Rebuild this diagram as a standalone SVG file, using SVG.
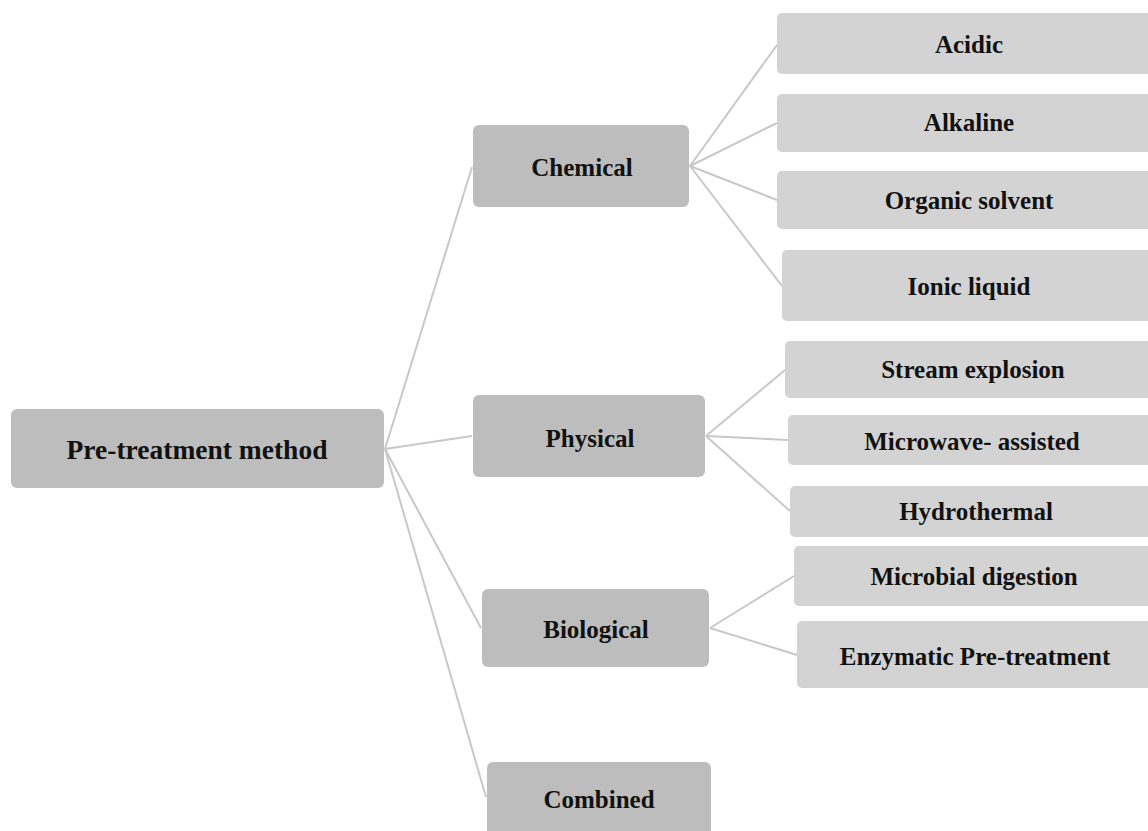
<svg xmlns="http://www.w3.org/2000/svg" width="1148" height="831" viewBox="0 0 1148 831">
<style>
.mid{fill:#bdbdbd}
.leaf{fill:#d3d3d3}
.t{font-family:"Liberation Serif","Times New Roman",serif;font-weight:bold;fill:#111;text-anchor:middle;dominant-baseline:central}
.tr{font-size:27.5px}
.tm{font-size:25px}
.tl{font-size:25px}
.c{stroke:#c8c8c8;stroke-width:2;fill:none}
</style>
<rect width="1148" height="831" fill="#fff"/>
<g id="connectors" class="c">
<line x1="385" y1="449" x2="472" y2="167"/>
<line x1="385" y1="449" x2="472" y2="436"/>
<line x1="385" y1="449" x2="481" y2="628"/>
<line x1="385" y1="449" x2="486" y2="797"/>
<line x1="690" y1="166" x2="777" y2="45"/>
<line x1="690" y1="166" x2="777" y2="123"/>
<line x1="690" y1="166" x2="777" y2="200"/>
<line x1="690" y1="166" x2="782" y2="286"/>
<line x1="706" y1="436" x2="785" y2="370"/>
<line x1="706" y1="436" x2="788" y2="440"/>
<line x1="706" y1="436" x2="790" y2="511"/>
<line x1="710" y1="628" x2="794" y2="576"/>
<line x1="710" y1="628" x2="797" y2="655"/>
</g>
<g id="root"><rect class="mid" x="11" y="409" width="373" height="79" rx="6"/><text class="t tr" x="197" y="449">Pre-treatment method</text></g>
<g id="chemical"><rect class="mid" x="473" y="125" width="216" height="82" rx="6"/><text class="t tm" x="582" y="167">Chemical</text></g>
<g id="physical"><rect class="mid" x="473" y="395" width="232" height="82" rx="6"/><text class="t tm" x="590" y="438">Physical</text></g>
<g id="biological"><rect class="mid" x="482" y="589" width="227" height="78" rx="6"/><text class="t tm" x="596" y="629">Biological</text></g>
<g id="combined"><rect class="mid" x="487" y="762" width="224" height="80" rx="6"/><text class="t tm" x="599" y="799">Combined</text></g>
<g id="acidic"><rect class="leaf" x="777" y="13" width="390" height="61" rx="5"/><text class="t tl" x="969" y="44">Acidic</text></g>
<g id="alkaline"><rect class="leaf" x="777" y="94" width="390" height="58" rx="5"/><text class="t tl" x="969" y="122">Alkaline</text></g>
<g id="organic"><rect class="leaf" x="777" y="171" width="390" height="58" rx="5"/><text class="t tl" x="969" y="200">Organic solvent</text></g>
<g id="ionic"><rect class="leaf" x="782" y="250" width="390" height="71" rx="5"/><text class="t tl" x="969" y="286">Ionic liquid</text></g>
<g id="stream"><rect class="leaf" x="785" y="341" width="390" height="57" rx="5"/><text class="t tl" x="973" y="369">Stream explosion</text></g>
<g id="microwave"><rect class="leaf" x="788" y="415" width="390" height="50" rx="5"/><text class="t tl" x="972" y="441">Microwave- assisted</text></g>
<g id="hydrothermal"><rect class="leaf" x="790" y="486" width="390" height="51" rx="5"/><text class="t tl" x="976" y="511">Hydrothermal</text></g>
<g id="microbial"><rect class="leaf" x="794" y="546" width="390" height="60" rx="5"/><text class="t tl" x="974" y="576">Microbial digestion</text></g>
<g id="enzymatic"><rect class="leaf" x="797" y="621" width="390" height="67" rx="5"/><text class="t tl" x="975" y="656">Enzymatic Pre-treatment</text></g>
</svg>
